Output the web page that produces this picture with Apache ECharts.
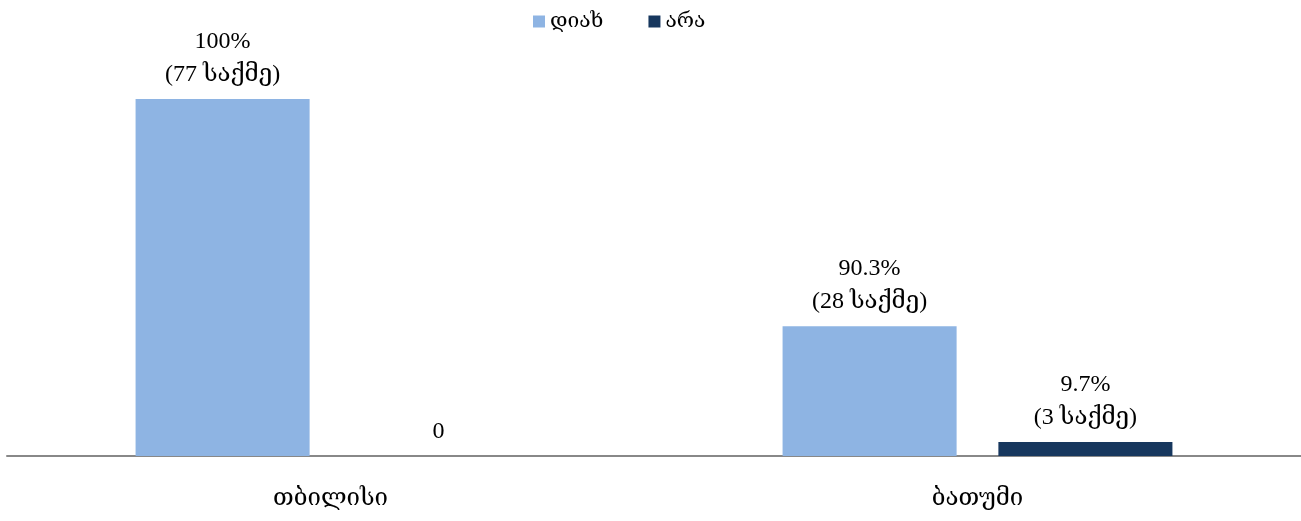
<!DOCTYPE html>
<html><head><meta charset="utf-8">
<script src="https://cdn.jsdelivr.net/npm/echarts@6/dist/echarts.min.js"></script>
<style>html,body{margin:0;padding:0;background:#fff}#c{width:1301px;height:521px}</style>
</head><body><div id="c"></div>
<script>
const categories = ['თბილისი', 'ბათუმი'];
const seriesNames = ['დიახ', 'არა'];
const yesCounts = [77, 28];
const noCounts = [0, 3];
const yesPercent = ['100%', '90.3%'];
const noPercent = ['', '9.7%'];
const caseWord = 'საქმე';

function labelText(pcts, counts) {
  return function (p) {
    const i = p.dataIndex;
    if (counts[i] === 0) return '0';
    return pcts[i] + '\n(' + counts[i] + ' ' + caseWord + ')';
  };
}
const font = '"Liberation Serif", "DejaVu Serif", serif';
const chart = echarts.init(document.getElementById('c'));
chart.setOption({
  animation: false,
  textStyle: { fontFamily: font },
  legend: {
    top: 6, left: 528, itemWidth: 12, itemHeight: 12, itemGap: 45, icon: 'rect',
    textStyle: { fontSize: 21, color: '#000', fontFamily: font },
    data: seriesNames
  },
  grid: { left: 7, right: 0, top: 85, bottom: 65, containLabel: false },
  xAxis: {
    type: 'category', data: categories,
    axisLine: { lineStyle: { color: '#888', width: 2 } },
    axisTick: { show: false },
    axisLabel: { margin: 31, fontSize: 24, color: '#000', fontFamily: font }
  },
  yAxis: { type: 'value', min: 0, max: 80, show: false, splitLine: { show: false } },
  series: [
    {
      name: seriesNames[0], type: 'bar', data: yesCounts, barWidth: '26.9%', barGap: '24%',
      itemStyle: { color: '#8EB4E3' },
      label: { show: true, position: 'top', distance: 8, fontSize: 24, lineHeight: 33, color: '#000', fontFamily: font, formatter: labelText(yesPercent, yesCounts) }
    },
    {
      name: seriesNames[1], type: 'bar', data: noCounts, barWidth: '26.9%',
      itemStyle: { color: '#17375E' },
      label: { show: true, position: 'top', distance: 8, fontSize: 24, lineHeight: 33, color: '#000', fontFamily: font, formatter: labelText(noPercent, noCounts) }
    }
  ]
});
</script></body></html>
